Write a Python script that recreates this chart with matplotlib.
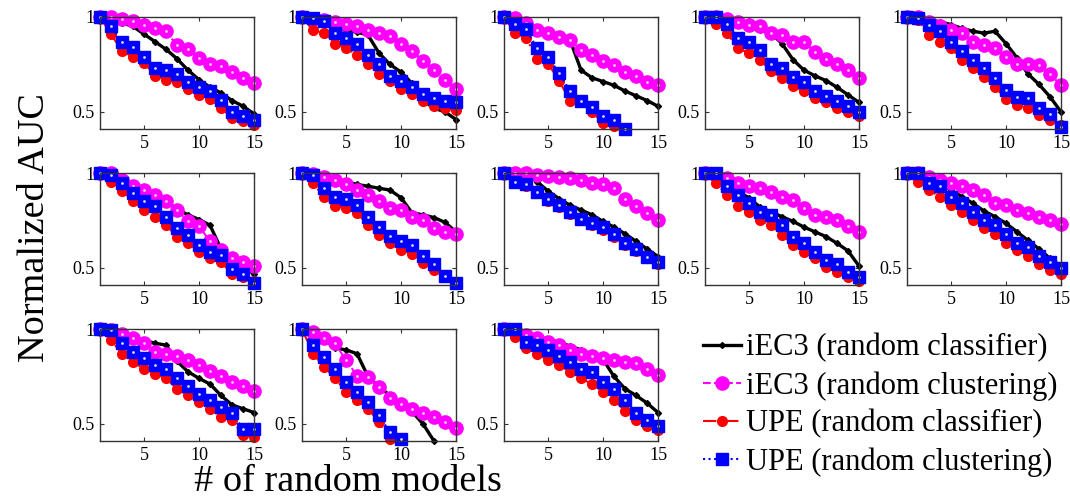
import numpy as np
import matplotlib.pyplot as plt

plt.rcParams['font.family'] = ['Liberation Serif', 'DejaVu Serif']

nan = np.nan
x_models = np.arange(1, 16)

# one row per small panel, 15 values each (nan = below the axis)
iec3_classifier = [
    [1.0, 0.99, 0.97, 0.95, 0.91, 0.87, 0.83, 0.78, 0.72, 0.67, 0.63, 0.60, 0.56, 0.53, 0.49],
    [1.0, 0.98, 0.96, 0.94, 0.93, 0.92, 0.905, 0.81, 0.75, 0.71, 0.65, 0.56, 0.52, 0.50, 0.46],
    [1.0, 0.98, 0.96, 0.94, 0.92, 0.90, 0.88, 0.72, 0.68, 0.66, 0.64, 0.61, 0.585, 0.56, 0.53],
    [1.0, 0.99, 0.975, 0.96, 0.945, 0.93, 0.915, 0.86, 0.775, 0.72, 0.69, 0.665, 0.63, 0.59, 0.55],
    [1.0, 0.99, 0.985, 0.975, 0.96, 0.94, 0.925, 0.915, 0.925, 0.86, 0.785, 0.70, 0.645, 0.58, 0.50],
    [1.0, 0.99, 0.96, 0.93, 0.905, 0.88, 0.85, 0.81, 0.78, 0.755, 0.725, 0.60, 0.55, 0.50, 0.47],
    [1.0, 0.995, 0.985, 0.97, 0.955, 0.94, 0.93, 0.92, 0.91, 0.87, 0.79, 0.78, 0.765, 0.74, 0.69],
    [1.0, 1.0, 0.99, 0.955, 0.905, 0.865, 0.83, 0.805, 0.78, 0.745, 0.715, 0.68, 0.64, 0.60, 0.56],
    [1.0, 0.99, 0.94, 0.90, 0.87, 0.82, 0.795, 0.77, 0.745, 0.715, 0.69, 0.665, 0.63, 0.59, 0.51],
    [1.0, 1.0, 0.97, 0.94, 0.91, 0.875, 0.84, 0.80, 0.77, 0.735, 0.69, 0.645, 0.60, 0.55, 0.51],
    [1.0, 1.0, 0.99, 0.96, 0.94, 0.925, 0.915, 0.83, 0.775, 0.74, 0.71, 0.65, 0.60, 0.58, 0.56],
    [1.0, 1.0, 0.95, 0.90, 0.89, 0.87, 0.75, 0.695, 0.65, 0.605, 0.565, 0.50, 0.41, nan, nan],
    [1.0, 0.995, 0.98, 0.96, 0.945, 0.93, 0.91, 0.89, 0.865, 0.84, 0.75, 0.685, 0.65, 0.61, 0.56],
]

iec3_clustering = [
    [1.0, 1.0, 0.99, 0.98, 0.96, 0.94, 0.925, 0.85, 0.83, 0.785, 0.75, 0.74, 0.71, 0.68, 0.65],
    [1.0, 0.99, 0.985, 0.975, 0.965, 0.95, 0.93, 0.915, 0.90, 0.86, 0.82, 0.77, 0.72, 0.67, 0.62],
    [1.0, 0.995, 0.97, 0.93, 0.915, 0.895, 0.88, 0.825, 0.80, 0.77, 0.745, 0.71, 0.69, 0.66, 0.64],
    [1.0, 1.0, 0.99, 0.975, 0.96, 0.95, 0.915, 0.905, 0.87, 0.87, 0.815, 0.78, 0.75, 0.72, 0.68],
    [1.0, 1.0, 0.975, 0.95, 0.93, 0.915, 0.87, 0.85, 0.835, 0.79, 0.755, 0.755, 0.745, 0.70, 0.64],
    [1.0, 1.0, 0.965, 0.93, 0.91, 0.885, 0.85, 0.805, 0.745, 0.72, 0.64, 0.595, 0.55, 0.53, 0.51],
    [1.0, 0.995, 0.98, 0.965, 0.94, 0.91, 0.885, 0.85, 0.815, 0.805, 0.77, 0.75, 0.71, 0.69, 0.68],
    [1.0, 1.0, 1.0, 0.99, 0.985, 0.98, 0.975, 0.965, 0.945, 0.94, 0.92, 0.865, 0.825, 0.79, 0.75],
    [1.0, 0.99, 0.975, 0.945, 0.93, 0.92, 0.90, 0.875, 0.86, 0.815, 0.78, 0.77, 0.75, 0.72, 0.69],
    [1.0, 1.0, 0.98, 0.965, 0.945, 0.93, 0.91, 0.885, 0.84, 0.83, 0.805, 0.79, 0.77, 0.75, 0.73],
    [1.0, 0.995, 0.975, 0.95, 0.925, 0.88, 0.87, 0.86, 0.835, 0.81, 0.78, 0.755, 0.72, 0.70, 0.675],
    [1.0, 0.985, 0.95, 0.925, 0.835, 0.755, 0.745, 0.695, 0.635, 0.605, 0.58, 0.555, 0.535, 0.51, 0.48],
    [1.0, 0.995, 0.97, 0.95, 0.93, 0.915, 0.89, 0.87, 0.86, 0.845, 0.835, 0.825, 0.82, 0.79, 0.76],
]

upe_classifier = [
    [1.0, 0.91, 0.82, 0.79, 0.76, 0.69, 0.67, 0.66, 0.62, 0.59, 0.57, 0.52, 0.47, 0.45, 0.43],
    [1.0, 0.93, 0.915, 0.86, 0.835, 0.80, 0.755, 0.70, 0.665, 0.62, 0.595, 0.56, 0.53, 0.52, 0.51],
    [1.0, 0.915, 0.89, 0.78, 0.755, 0.665, 0.56, 0.55, 0.50, 0.44, 0.425, nan, nan, nan, nan],
    [1.0, 0.965, 0.915, 0.835, 0.81, 0.775, 0.715, 0.68, 0.635, 0.61, 0.575, 0.55, 0.52, 0.50, 0.48],
    [1.0, 0.985, 0.905, 0.87, 0.835, 0.775, 0.73, 0.685, 0.63, 0.57, 0.535, 0.52, 0.485, 0.46, 0.43],
    [1.0, 0.955, 0.905, 0.85, 0.805, 0.77, 0.725, 0.665, 0.63, 0.585, 0.55, 0.53, 0.47, 0.45, 0.43],
    [1.0, 0.945, 0.875, 0.825, 0.815, 0.79, 0.725, 0.675, 0.63, 0.595, 0.575, 0.525, 0.49, 0.45, 0.42],
    [1.0, 0.95, 0.93, 0.895, 0.855, 0.82, 0.785, 0.75, 0.725, 0.70, 0.665, 0.62, 0.59, 0.55, 0.52],
    [1.0, 0.945, 0.885, 0.825, 0.795, 0.75, 0.725, 0.675, 0.62, 0.585, 0.55, 0.505, 0.48, 0.45, 0.43],
    [1.0, 0.955, 0.91, 0.875, 0.83, 0.795, 0.75, 0.71, 0.68, 0.63, 0.595, 0.565, 0.52, 0.49, 0.47],
    [1.0, 0.94, 0.87, 0.825, 0.79, 0.765, 0.74, 0.685, 0.65, 0.615, 0.58, 0.535, 0.52, 0.44, 0.43],
    [1.0, 0.87, 0.80, 0.74, 0.67, 0.625, 0.58, 0.51, 0.42, nan, nan, nan, nan, nan, nan],
    [1.0, 0.96, 0.90, 0.87, 0.835, 0.81, 0.775, 0.74, 0.71, 0.67, 0.625, 0.57, 0.52, 0.49, 0.47],
]

upe_clustering = [
    [1.0, 0.95, 0.87, 0.84, 0.79, 0.73, 0.72, 0.70, 0.66, 0.63, 0.61, 0.565, 0.50, 0.48, 0.46],
    [1.0, 0.995, 0.98, 0.915, 0.89, 0.86, 0.80, 0.755, 0.69, 0.665, 0.63, 0.595, 0.575, 0.56, 0.55],
    [1.0, 0.965, 0.935, 0.835, 0.79, 0.705, 0.61, 0.56, 0.525, 0.48, 0.46, 0.41, nan, nan, nan],
    [1.0, 1.0, 0.965, 0.89, 0.87, 0.825, 0.755, 0.73, 0.685, 0.655, 0.61, 0.585, 0.56, 0.53, 0.50],
    [1.0, 0.995, 0.96, 0.925, 0.87, 0.82, 0.775, 0.73, 0.68, 0.615, 0.58, 0.575, 0.52, 0.49, 0.42],
    [1.0, 0.99, 0.945, 0.895, 0.85, 0.825, 0.77, 0.71, 0.675, 0.62, 0.585, 0.57, 0.495, 0.47, 0.42],
    [1.0, 0.99, 0.92, 0.875, 0.865, 0.83, 0.77, 0.715, 0.67, 0.64, 0.62, 0.565, 0.52, 0.46, 0.42],
    [1.0, 0.955, 0.94, 0.90, 0.865, 0.83, 0.795, 0.76, 0.735, 0.715, 0.68, 0.63, 0.60, 0.56, 0.53],
    [1.0, 1.0, 0.93, 0.885, 0.84, 0.795, 0.78, 0.725, 0.665, 0.63, 0.585, 0.54, 0.52, 0.48, 0.45],
    [1.0, 1.0, 0.945, 0.93, 0.875, 0.84, 0.795, 0.75, 0.725, 0.68, 0.63, 0.61, 0.565, 0.53, 0.50],
    [1.0, 0.995, 0.925, 0.88, 0.845, 0.81, 0.79, 0.74, 0.70, 0.66, 0.625, 0.59, 0.56, 0.475, 0.475],
    [1.0, 0.915, 0.855, 0.79, 0.72, 0.67, 0.615, 0.545, 0.455, 0.42, nan, nan, nan, nan, nan],
    [1.0, 1.0, 0.93, 0.915, 0.89, 0.86, 0.825, 0.79, 0.775, 0.72, 0.685, 0.625, 0.56, 0.52, 0.49],
]

labels = ['iEC3 (random classifier)', 'iEC3 (random clustering)',
          'UPE (random classifier)', 'UPE (random clustering)']

W, H = 1070, 498
col_left = [100, 302, 504, 705, 907]
row_top = [17, 173, 329]
ax_w, ax_h = 154, 112

fig = plt.figure(figsize=(W / 100, H / 100), dpi=100)

handles = []
for k in range(13):
    r, c = divmod(k, 5)
    ax = fig.add_axes([col_left[c] / W, 1 - (row_top[r] + ax_h) / H, ax_w / W, ax_h / H])
    h1, = ax.plot(x_models, iec3_classifier[k], '-', color='black', lw=2.4,
                  marker='D', ms=3, clip_on=False)
    h2, = ax.plot(x_models, iec3_clustering[k], '--', color='#ff00ff', lw=1.5,
                  marker='o', ms=9.5, clip_on=False)
    ax.plot(x_models, iec3_clustering[k], '.', color='#ffd0ff', ms=2, clip_on=False)
    h3, = ax.plot(x_models, upe_classifier[k], '-.', color='red', lw=1.5,
                  marker='o', ms=7, clip_on=False)
    h4, = ax.plot(x_models, upe_clustering[k], ':', color='blue', lw=1.5,
                  marker='s', ms=8, clip_on=False)
    ax.plot(x_models, upe_clustering[k], '.', color='#d0d8ff', ms=2, clip_on=False)
    handles = [h1, h2, h3, h4]

    ax.set_xlim(1, 15)
    ax.set_ylim(0.41, 1)
    ax.set_xticks([5, 10, 15])
    ax.set_yticks([0.5, 1])
    ax.set_yticklabels(['0.5', '1'])
    ax.tick_params(direction='in', top=True, right=True, length=3,
                   labelsize=13, pad=4, color='#333333')
    for s in ax.spines.values():
        s.set_color('#333333')
        s.set_linewidth(1)

fig.legend(handles, labels, loc='upper left', bbox_to_anchor=(688 / W, 1 - 318 / H),
           frameon=False, fontsize=22, handlelength=1.25, handletextpad=0.15,
           labelspacing=0.28, borderpad=0, numpoints=1)

fig.text(35 / W, 1 - 228 / H, 'Normalized AUC', rotation=90, fontsize=27.5,
         ha='center', va='center')
fig.text(348 / W, 1 - 482 / H, '# of random models', fontsize=27.5,
         ha='center', va='center')

fig.savefig('out.png', dpi=100)
